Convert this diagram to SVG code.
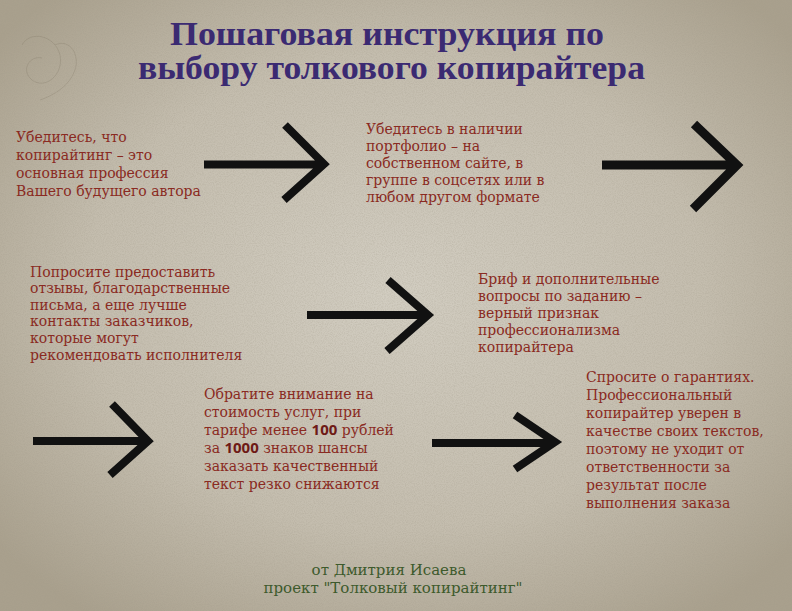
<svg xmlns="http://www.w3.org/2000/svg" width="792" height="611" viewBox="0 0 792 611">
<defs>
<radialGradient id="bg" cx="50%" cy="48%" r="65%">
<stop offset="0" stop-color="#d2cdc1"/>
<stop offset="0.6" stop-color="#c4bdae"/>
<stop offset="1" stop-color="#a9a08d"/>
</radialGradient>
<filter id="noise" x="0" y="0" width="100%" height="100%">
<feTurbulence type="fractalNoise" baseFrequency="0.9" numOctaves="2" seed="3"/>
<feColorMatrix type="matrix" values="0 0 0 0 0.35  0 0 0 0 0.32  0 0 0 0 0.25  0 0 0 -1.6 1.0"/>
</filter>
<style>
.body{font-family:"DejaVu Serif","Liberation Serif",serif;font-size:14px;fill:#8a2a22}
.num{font-family:"Open Sans","DejaVu Sans",sans-serif;font-weight:bold;font-size:15px;fill:#6e1a16}
.title{font-family:"Liberation Serif","Times New Roman",serif;font-weight:bold;font-size:34px;fill:#3b2a72}
.foot{font-family:"DejaVu Serif","Liberation Serif",serif;font-size:15px;fill:#3d5a2c;text-anchor:middle}
.arr{fill:none;stroke:#111;stroke-width:8;stroke-linecap:butt;stroke-linejoin:miter}
</style>
</defs>
<rect width="792" height="611" fill="url(#bg)"/>
<rect width="792" height="611" filter="url(#noise)" opacity="0.35"/>
<g fill="none" stroke="#6b6250" stroke-width="1" opacity="0.2">
<path d="M22,45 C30,30 55,35 60,55 C64,75 45,90 32,80 C20,70 30,55 42,58"/>
<path d="M55,45 C70,38 80,55 75,70 C70,85 55,95 40,100"/>
</g>
<g id="title">
<text class="title" x="170" y="45" textLength="434" lengthAdjust="spacingAndGlyphs">Пошаговая инструкция по</text>
<text class="title" x="138" y="79" textLength="507" lengthAdjust="spacingAndGlyphs">выбору толкового копирайтера</text>
</g>
<g id="step1">
<text class="body" x="16" y="142">Убедитесь, что</text>
<text class="body" x="16" y="160">копирайтинг – это</text>
<text class="body" x="16" y="178">основная профессия</text>
<text class="body" x="16" y="196">Вашего будущего автора</text>
</g>
<g id="step2">
<text class="body" x="366" y="134">Убедитесь в наличии</text>
<text class="body" x="366" y="151">портфолио – на</text>
<text class="body" x="366" y="168">собственном сайте, в</text>
<text class="body" x="366" y="185">группе в соцсетях или в</text>
<text class="body" x="366" y="202">любом другом формате</text>
</g>
<g id="step3">
<text class="body" x="30" y="277">Попросите предоставить</text>
<text class="body" x="30" y="293">отзывы, благодарственные</text>
<text class="body" x="30" y="310">письма, а еще лучше</text>
<text class="body" x="30" y="326">контакты заказчиков,</text>
<text class="body" x="30" y="343">которые могут</text>
<text class="body" x="30" y="360">рекомендовать исполнителя</text>
</g>
<g id="step4">
<text class="body" x="478" y="284">Бриф и дополнительные</text>
<text class="body" x="478" y="301">вопросы по заданию –</text>
<text class="body" x="478" y="318">верный признак</text>
<text class="body" x="478" y="335">профессионализма</text>
<text class="body" x="478" y="352">копирайтера</text>
</g>
<g id="step5">
<text class="body" x="204" y="399">Обратите внимание на</text>
<text class="body" x="204" y="417">стоимость услуг, при</text>
<text class="body" x="204" y="435">тарифе менее <tspan class="num">100</tspan> рублей</text>
<text class="body" x="204" y="453">за <tspan class="num">1000</tspan> знаков шансы</text>
<text class="body" x="204" y="471">заказать качественный</text>
<text class="body" x="204" y="489">текст резко снижаются</text>
</g>
<g id="step6">
<text class="body" x="586" y="382">Спросите о гарантиях.</text>
<text class="body" x="586" y="400">Профессиональный</text>
<text class="body" x="586" y="418">копирайтер уверен в</text>
<text class="body" x="586" y="436">качестве своих текстов,</text>
<text class="body" x="586" y="454">поэтому не уходит от</text>
<text class="body" x="586" y="472">ответственности за</text>
<text class="body" x="586" y="490">результат после</text>
<text class="body" x="586" y="508">выполнения заказа</text>
</g>
<g id="connectors">
<path class="arr" d="M204,164.5 H324 M285,125 L324,164 L284,200"/>
<path class="arr" d="M602,165 H738 M694,124 L737,165 L693,209" style="stroke-width:9"/>
<path class="arr" d="M307,315 H428 M388,280 L428,315 L387,351"/>
<path class="arr" d="M33,441 H148 M112,404 L148,441 L110,475"/>
<path class="arr" d="M432,443 H555 M515,415 L555,442 L515,469"/>
</g>
<g id="footer">
<text class="foot" x="389" y="575">от Дмитрия Исаева</text>
<text class="foot" x="393" y="593">проект "Толковый копирайтинг"</text>
</g>
</svg>
